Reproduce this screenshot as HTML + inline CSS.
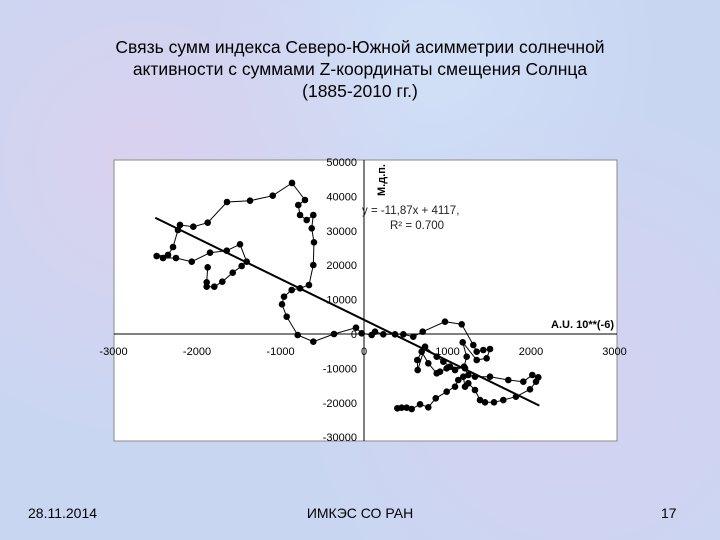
<!DOCTYPE html>
<html><head><meta charset="utf-8">
<style>
html,body{margin:0;padding:0}
body{width:720px;height:540px;overflow:hidden;background:#c9d6f2;background-image:radial-gradient(circle at 20% 30%,rgba(235,205,235,.5),transparent 40%),radial-gradient(circle at 80% 70%,rgba(225,205,240,.45),transparent 40%),radial-gradient(circle at 60% 10%,rgba(215,230,250,.6),transparent 35%);font-family:"Liberation Sans","Noto Sans CJK SC",sans-serif;position:relative}
.title{position:absolute;left:0;top:36px;width:720px;text-align:center;font-size:17.5px;line-height:22px;color:#000}
.foot{position:absolute;top:505px;font-size:14px;color:#000}
</style></head><body>
<div class="title">Связь сумм индекса Северо-Южной асимметрии солнечной<br>активности с суммами Z-координаты смещения Солнца<br>(1885-2010 гг.)</div>
<svg id="ch" width="720" height="540" style="position:absolute;left:0;top:0"></svg>
<div class="foot" style="left:28px">28.11.2014</div>
<div class="foot" style="left:0;width:720px;text-align:center">ИМКЭС СО РАН</div>
<div class="foot" style="left:661px">17</div>
<script>
const xTicks=[-3000,-2000,-1000,0,1000,2000,3000];
const yTicks=[50000,40000,30000,20000,10000,0,-10000,-20000,-30000];
const xVals=[-1872,-1884,-1884,-1793,-1697,-1572,-1465,-1405,-1485,-1644,-1844,-2063,-2252,-2407,-2483,-2347,-2287,-2228,-2204,-2044,-1872,-1641,-1365,-1093,-862,-707,-787,-766,-686,-607,-626,-599,-607,-659,-766,-866,-958,-982,-926,-794,-607,-359,-96,-28,92,132,231,371,471,590,703,970,1170,1309,1350,1429,1509,1469,1350,1182,1230,1198,1090,990,910,871,770,691,638,643,731,871,950,1030,1210,1249,1329,1509,1728,1908,2016,2087,2060,1988,1820,1668,1557,1449,1389,1329,1249,1210,1189,1129,1090,990,859,770,671,571,511,451,399];
const yVals=[19390,15030,13750,13750,15200,17820,19770,21020,26080,24220,23630,21020,22090,22090,22670,22970,25290,30230,31690,31190,32360,38370,38750,40200,43900,38950,37500,34590,33140,34590,30730,26660,20060,14240,13290,12790,10840,8630,5030,-290,-2240,0,1830,200,-290,670,-90,-90,-90,-780,670,3580,2820,-3200,-5150,-4650,-4360,-7060,-7560,-2410,-6600,-9510,-10470,-9970,-10960,-11420,-8520,-5150,-7560,-10470,-3690,-6600,-8050,-9510,-9970,-11920,-12410,-12410,-13370,-13870,-11920,-12590,-13870,-16080,-18230,-19190,-19860,-19860,-19190,-16280,-14330,-15320,-12410,-13370,-15320,-16770,-18690,-21310,-20440,-21800,-21420,-21420,-21600];
const trendSlope=-11.87, trendIntercept=4117, trendRange=[-2500,2100];
const NS='http://www.w3.org/2000/svg';
const svg=document.getElementById('ch');
const X=v=>364+v*0.0835;
const Y=v=>334-v*0.00344;
function mk(t,a,p){const e=document.createElementNS(NS,t);for(const k in a)e.setAttribute(k,a[k]);(p||svg).appendChild(e);return e;}
const box=mk('rect',{x:114,y:160,width:503,height:281,fill:'#fff',stroke:'#8a8a8a','stroke-width':1});


const ax=mk('line',{x1:114,x2:617,y1:Y(0),y2:Y(0),stroke:'#000','stroke-width':1});


const ay=mk('line',{x1:X(0),x2:X(0),y1:160,y2:441,stroke:'#000','stroke-width':1});


xTicks.forEach(v=>{const t=mk('text',{x:X(v),y:355,'text-anchor':'middle','font-size':11,fill:'#000'});t.textContent=v;

});
yTicks.forEach(v=>{const t=mk('text',{x:357,y:Y(v)+4,'text-anchor':'end','font-size':11,fill:'#000'});t.textContent=v;

});
let d='';xVals.forEach((v,i)=>{d+=(i?'L':'M')+X(v).toFixed(1)+' '+Y(yVals[i]).toFixed(1)});
const ln=mk('path',{d:d,fill:'none',stroke:'#000','stroke-width':1});


xVals.forEach((v,i)=>{const c=mk('circle',{cx:X(v),cy:Y(yVals[i]),r:3.3,fill:'#000'});

});
const tl=mk('line',{x1:X(trendRange[0]),y1:Y(trendSlope*trendRange[0]+trendIntercept),x2:X(trendRange[1]),y2:Y(trendSlope*trendRange[1]+trendIntercept),stroke:'#000','stroke-width':2});


const eq=mk('text',{x:362,y:214,'font-size':11.5,fill:'#222'});eq.textContent='y = -11,87x + 4117,';


const r2=mk('text',{x:390,y:229,'font-size':11.5,fill:'#222'});r2.textContent='R² = 0.700';


const yt=mk('text',{x:0,y:0,'font-size':11,'font-weight':'bold',fill:'#000',transform:'translate(385,196) rotate(-90)'});yt.textContent='М.д.п.';


const xt=mk('text',{x:614,y:328,'text-anchor':'end','font-size':11,'font-weight':'bold',fill:'#000'});xt.textContent='A.U. 10**(-6)';


</script>
</body></html>
